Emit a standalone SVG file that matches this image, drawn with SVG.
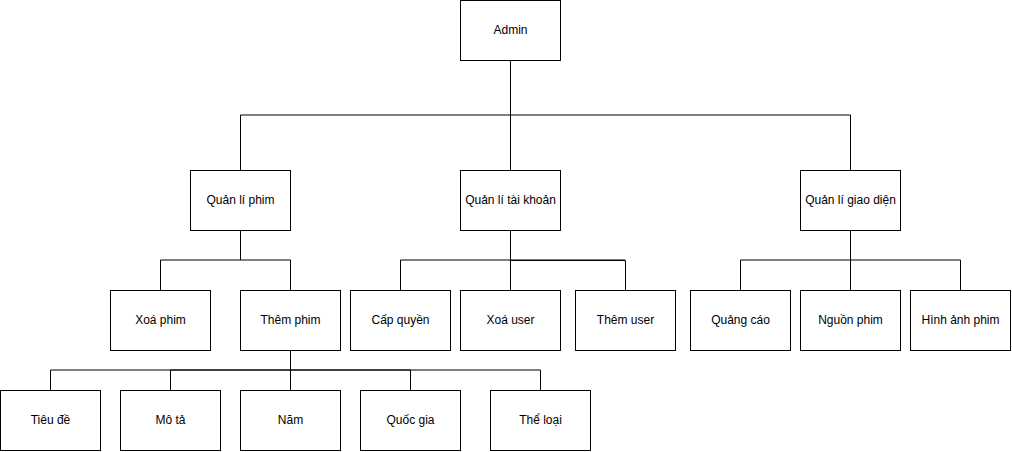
<svg xmlns="http://www.w3.org/2000/svg" width="1012" height="452" viewBox="0 0 1012 452">
  <style>
    .box rect { fill: #ffffff; stroke: #000000; stroke-width: 1; }
    .box text { font-family: "Liberation Sans", Arial, sans-serif; font-size: 12px; fill: #000000; text-anchor: middle; dominant-baseline: central; }
    .edge { fill: none; stroke: #000000; stroke-width: 1; }
  </style>
  <rect width="1012" height="452" fill="#ffffff"/>

  <!-- orthogonal connectors, one path per parent/child pair -->
  <g id="connectors">
    <path class="edge" d="M510.5 60.5 V115 H240.5 V170.5"/>
    <path class="edge" d="M510.5 60.5 V170.5"/>
    <path class="edge" d="M510.5 60.5 V115 H850.5 V170.5"/>

    <path class="edge" d="M240.5 230.5 V260 H160.5 V290.5"/>
    <path class="edge" d="M240.5 230.5 V260 H290.5 V290.5"/>

    <path class="edge" d="M510.5 230.5 V260 H400.5 V290.5"/>
    <path class="edge" d="M510.5 230.5 V290.5"/>
    <path class="edge" d="M510.5 230.5 V260.5 H625.5 V290.5"/>
    <path class="edge" d="M510.5 260 H625"/>

    <path class="edge" d="M850.5 230.5 V260 H740.5 V290.5"/>
    <path class="edge" d="M850.5 230.5 V290.5"/>
    <path class="edge" d="M850.5 230.5 V260 H960.5 V290.5"/>

    <path class="edge" d="M290.5 350.5 V370 H50.5 V390.5"/>
    <path class="edge" d="M290.5 350.5 V370 H170.5 V390.5"/>
    <path class="edge" d="M290.5 350.5 V390.5"/>
    <path class="edge" d="M290.5 350.5 V370 H410.5 V390.5"/>
    <path class="edge" d="M290.5 350.5 V370 H540.5 V390.5"/>
  </g>

  <g id="admin" class="box"><rect x="460.5" y="0.5" width="100" height="60"/><text x="510.5" y="29.5">Admin</text></g>

  <g id="quan-li-phim" class="box"><rect x="190.5" y="170.5" width="100" height="60"/><text x="240.5" y="199.5">Quản lí phim</text></g>
  <g id="quan-li-tai-khoan" class="box"><rect x="460.5" y="170.5" width="100" height="60"/><text x="510.5" y="199.5">Quản lí tài khoản</text></g>
  <g id="quan-li-giao-dien" class="box"><rect x="800.5" y="170.5" width="100" height="60"/><text x="850.5" y="199.5">Quản lí giao diện</text></g>

  <g id="xoa-phim" class="box"><rect x="110.5" y="290.5" width="100" height="60"/><text x="160.5" y="319.5">Xoá phim</text></g>
  <g id="them-phim" class="box"><rect x="240.5" y="290.5" width="100" height="60"/><text x="290.5" y="319.5">Thêm phim</text></g>
  <g id="cap-quyen" class="box"><rect x="350.5" y="290.5" width="100" height="60"/><text x="400.5" y="319.5">Cấp quyền</text></g>
  <g id="xoa-user" class="box"><rect x="460.5" y="290.5" width="100" height="60"/><text x="510.5" y="319.5">Xoá user</text></g>
  <g id="them-user" class="box"><rect x="575.5" y="290.5" width="100" height="60"/><text x="625.5" y="319.5">Thêm user</text></g>
  <g id="quang-cao" class="box"><rect x="690.5" y="290.5" width="100" height="60"/><text x="740.5" y="319.5">Quảng cáo</text></g>
  <g id="nguon-phim" class="box"><rect x="800.5" y="290.5" width="100" height="60"/><text x="850.5" y="319.5">Nguồn phim</text></g>
  <g id="hinh-anh-phim" class="box"><rect x="910.5" y="290.5" width="100" height="60"/><text x="960.5" y="319.5">Hình ảnh phim</text></g>

  <g id="tieu-de" class="box"><rect x="0.5" y="390.5" width="100" height="60"/><text x="50.5" y="419.5">Tiêu đề</text></g>
  <g id="mo-ta" class="box"><rect x="120.5" y="390.5" width="100" height="60"/><text x="170.5" y="419.5">Mô tả</text></g>
  <g id="nam" class="box"><rect x="240.5" y="390.5" width="100" height="60"/><text x="290.5" y="419.5">Năm</text></g>
  <g id="quoc-gia" class="box"><rect x="360.5" y="390.5" width="100" height="60"/><text x="410.5" y="419.5">Quốc gia</text></g>
  <g id="the-loai" class="box"><rect x="490.5" y="390.5" width="100" height="60"/><text x="540.5" y="419.5">Thể loại</text></g>
</svg>
